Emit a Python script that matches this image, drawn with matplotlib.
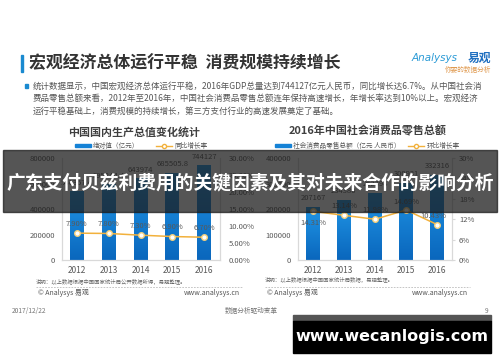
import numpy as np
import matplotlib
matplotlib.use("Agg")
import matplotlib.pyplot as plt
from matplotlib.patches import Rectangle
from matplotlib.lines import Line2D
from matplotlib.ticker import FuncFormatter
from matplotlib.colors import LinearSegmentedColormap

CJK = ['Noto Sans CJK SC', 'DejaVu Sans']
plt.rcParams['font.family'] = CJK

# ---- data ----
years = ['2012', '2013', '2014', '2015', '2016']
gdp = [540367.4, 595244.4, 643974, 685505.8, 744127]
gdp_labels = ['540367.4', '595244.4', '643974', '685505.8', '744127']
gdp_growth = [7.9, 7.8, 7.3, 6.9, 6.7]
gdp_growth_labels = ['7.90%', '7.80%', '7.30%', '6.90%', '6.70%']

retail = [207167, 234380, 262394, 300931, 332316]
retail_labels = ['207167', '234380', '262394', '300931', '332316']
retail_growth = [14.31, 13.14, 11.98, 14.69, 10.43]
retail_growth_labels = ['14.31%', '13.14%', '11.98%', '14.69%', '10.43%']

W, H = 500, 362
fig = plt.figure(figsize=(W / 100, H / 100), dpi=100)
fig.patch.set_facecolor('white')


def fx(x):
    return x / W


def fy(y):
    return 1 - y / H


GRAY = '#595959'
SPINE = '#d9d9d9'
BLUE_TOP = '#2196e6'
BLUE_BOT = '#0a67bd'
ORANGE = '#f2b13c'


def gradient_bars(ax, x, vals, width):
    # bars with a vertical blue gradient, drawn as a clipped image
    bars = ax.bar(x, vals, width=width, color=BLUE_TOP, zorder=2)
    grad = np.linspace(0, 1, 64).reshape(-1, 1)
    cmap = LinearSegmentedColormap.from_list('b', [BLUE_TOP, BLUE_BOT])
    for b in bars:
        x0, w, h = b.get_x(), b.get_width(), b.get_height()
        im = ax.imshow(grad, cmap=cmap, aspect='auto', extent=(x0, x0 + w, 0, h),
                       origin='upper', zorder=2.5)
        im.set_clip_path(b)
    return bars


def style(ax, ax2):
    ax.spines['top'].set_visible(False)
    ax2.spines['top'].set_visible(False)
    for a in (ax, ax2):
        for s in ['left', 'right', 'bottom']:
            a.spines[s].set_color(SPINE)
            a.spines[s].set_linewidth(0.8)
    ax.tick_params(axis='y', length=0, labelsize=5.5, labelcolor=GRAY, pad=5)
    ax.tick_params(axis='x', length=0, labelsize=6, labelcolor=GRAY, pad=4)


def legend(ax2, labels, anchor_x, colsp):
    handles = [Rectangle((0, 0), 1, 1, color='#1582d6'),
               Line2D([], [], color=ORANGE, marker='o', mfc='white', mec=ORANGE, ms=3, lw=1)]
    ax2.legend(handles, labels, loc='lower center', bbox_to_anchor=(anchor_x, 1.04),
               ncol=2, frameon=False, fontsize=4.8, labelcolor=GRAY, handlelength=2.4,
               handleheight=0.5, columnspacing=colsp, borderpad=0.1, handletextpad=0.3)


x = np.arange(len(years))

# ---- left chart: GDP ----
axL = fig.add_axes([fx(62), 1 - 260 / H, 158 / W, 102 / H])
axL2 = axL.twinx()
gradient_bars(axL, x, gdp, 0.44)
axL.set_xlim(-0.47, 4.5)
axL.set_ylim(0, 800000)
axL.set_yticks([0, 200000, 400000, 600000, 800000])
axL.set_xticks(x)
axL.set_xticklabels(years)
for xi, v, lab in zip(x, gdp, gdp_labels):
    axL.annotate(lab, (xi, v), xytext=(0, 3), textcoords='offset points',
                 ha='center', va='bottom', fontsize=5.5, color=GRAY)
axL2.plot(x, gdp_growth, color=ORANGE, lw=1.1, marker='o', ms=4,
          mfc='white', mec='#f5cf7a', mew=1.0, zorder=4)
axL2.set_ylim(0, 30)
axL2.set_yticks([0, 5, 10, 15, 20, 25, 30])
axL2.yaxis.set_major_formatter(FuncFormatter(lambda v, p: '%.2f%%' % v))
axL2.tick_params(axis='y', length=0, labelsize=5.5, labelcolor=GRAY, pad=6)
for xi, v, lab in zip(x, gdp_growth, gdp_growth_labels):
    axL2.annotate(lab, (xi, v), xytext=(0, 4), textcoords='offset points',
                  ha='center', va='bottom', fontsize=5.5, color=GRAY)
style(axL, axL2)
legend(axL2, ['绝对值（亿元）', '同比增长率'], 0.5, 2.5)

# ---- right chart: retail sales ----
axR = fig.add_axes([fx(298), 1 - 260 / H, 154 / W, 102 / H])
axR2 = axR.twinx()
gradient_bars(axR, x, retail, 0.45)
axR.set_xlim(-0.48, 4.48)
axR.set_ylim(0, 400000)
axR.set_yticks([0, 100000, 200000, 300000, 400000])
axR.set_xticks(x)
axR.set_xticklabels(years)
for xi, v, lab in zip(x, retail, retail_labels):
    axR.annotate(lab, (xi, v), xytext=(0, 4), textcoords='offset points',
                 ha='center', va='bottom', fontsize=5.5, color=GRAY)
axR2.plot(x, retail_growth, color=ORANGE, lw=1.1, marker='o', ms=4,
          mfc='white', mec='#f5cf7a', mew=1.0, zorder=4)
axR2.set_ylim(0, 30)
axR2.set_yticks([0, 6, 12, 18, 24, 30])
axR2.yaxis.set_major_formatter(FuncFormatter(lambda v, p: '%d%%' % v))
axR2.tick_params(axis='y', length=2, color=SPINE, labelsize=5.5, labelcolor=GRAY, pad=3)
offsets = [(0, -11), (0, 4), (0, 4), (0, 3), (-3, 3)]
for xi, v, lab, off in zip(x, retail_growth, retail_growth_labels, offsets):
    axR2.annotate(lab, (xi, v), xytext=off, textcoords='offset points',
                  ha='center', va='bottom', fontsize=5.5, color=GRAY)
style(axR, axR2)
legend(axR2, ['社会消费品零售总额（亿元 人民币）', '环比增长率'], 0.45, 1.2)

# ---- slide text ----
fig.patches.append(Rectangle((fx(21), fy(72)), 2.2 / W, 17 / H, transform=fig.transFigure,
                             color='#1a8ad0'))
fig.text(fx(29), fy(63), '宏观经济总体运行平稳  消费规模持续增长', fontsize=12.2,
         fontweight='bold', color='#333333', va='center', ha='left')
fig.text(fx(412), fy(58), 'Analysys', fontsize=7.5, style='italic', color='#2a9ad6',
         va='center', ha='left', family='DejaVu Sans')
fig.text(fx(491), fy(58), '易观', fontsize=8.5, fontweight='bold', color='#1f6fc0',
         va='center', ha='right')
fig.text(fx(491), fy(70), '你要的数据分析', fontsize=4.8, color='#e09a50',
         va='center', ha='right')
fig.patches.append(Rectangle((fx(24.5), fy(87.5)), 3 / W, 3 / H, transform=fig.transFigure,
                             color='#1a8ad0'))
body = ['统计数据显示，中国宏观经济总体运行平稳，2016年GDP总量达到744127亿元人民币，同比增长达6.7%。从中国社会消',
        '费品零售总额来看，2012年至2016年，中国社会消费品零售总额连年保持高速增长，年增长率达到10%以上。宏观经济',
        '运行平稳基础上，消费规模的持续增长，第三方支付行业的高速发展奠定了基础。']
for i, line in enumerate(body):
    fig.text(fx(33), fy(86 + 12.5 * i), line, fontsize=6.1, color='#555555',
             va='center', ha='left')

fig.text(fx(134), fy(132), '中国国内生产总值变化统计', fontsize=7.9, fontweight='bold',
         color='#404040', va='center', ha='center')
fig.text(fx(368), fy(131), '2016年中国社会消费品零售总额', fontsize=7.9, fontweight='bold',
         color='#404040', va='center', ha='center')

fig.text(fx(36), fy(281), '说明：以上数据根据中国国家统计局公开数据所得，易观整理。', fontsize=3.9,
         color='#666666', va='center', ha='left')
fig.text(fx(265), fy(279), '说明：以上数据根据中国国家统计局数据，易观整理。', fontsize=3.9,
         color='#666666', va='center', ha='left')
for x0, x1 in [(36, 243), (265, 470)]:
    fig.lines.append(Line2D([fx(x0), fx(x1)], [fy(287), fy(287)], transform=fig.transFigure,
                            color='#bbbbbb', lw=0.6, ls=(0, (2, 1.5))))
fig.text(fx(38), fy(293), '© Analysys 易观', fontsize=5, color='#555555', va='center', ha='left')
fig.text(fx(267), fy(293), '© Analysys 易观', fontsize=5, color='#555555', va='center', ha='left')
fig.text(fx(240), fy(293), 'www.analysys.cn', fontsize=5, color='#555555', va='center', ha='right')
fig.text(fx(468), fy(293), 'www.analysys.cn', fontsize=5, color='#555555', va='center', ha='right')
fig.text(fx(12), fy(311), '2017/12/22', fontsize=4.8, color='#777777', va='center', ha='left')
fig.text(fx(225), fy(311), '数据分析驱动变革', fontsize=4.8, color='#777777', va='center', ha='left')
fig.text(fx(488), fy(311), '9', fontsize=4.8, color='#777777', va='center', ha='right')

# ---- overlay banner ----
fig.patches.append(Rectangle((fx(3), fy(212)), 494 / W, 62 / H, transform=fig.transFigure,
                             color='#1a1a1a', alpha=0.74, zorder=10))
fig.text(0.5, fy(183), '广东支付贝兹利费用的关键因素及其对未来合作的影响分析', fontsize=13.5,
         fontweight='bold', color='white', va='center', ha='center', zorder=11)

# ---- watermark ----
fig.patches.append(Rectangle((fx(293), fy(321)), 198 / W, 6 / H, transform=fig.transFigure,
                             color='#555555', zorder=10))
fig.patches.append(Rectangle((fx(293), fy(353)), 198 / W, 32 / H, transform=fig.transFigure,
                             color='black', zorder=10))
fig.text(fx(392), fy(337), 'www.wecanlogis.com', fontsize=11.5, fontweight='bold',
         color='white', va='center', ha='center', family='DejaVu Sans', zorder=11)

fig.savefig('out.png', dpi=100)
